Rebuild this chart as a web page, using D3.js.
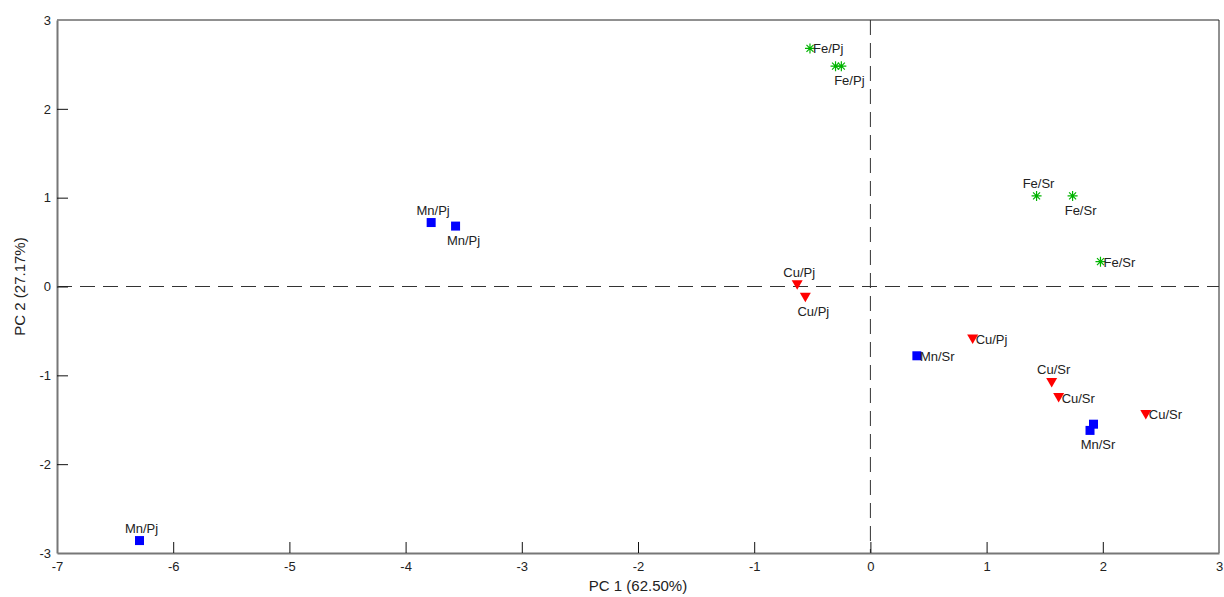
<!DOCTYPE html>
<html>
<head>
<meta charset="utf-8">
<script src="https://cdn.jsdelivr.net/npm/d3@7"></script>
<style>
  body { margin: 0; background: #fff; }
  text { font-family: "Liberation Sans", Arial, sans-serif; }
</style>
</head>
<body>
<script>
// scores, one small list per group
var feX = [-0.52, -0.30, -0.25, 1.43, 1.74, 1.98];
var feY = [2.68, 2.48, 2.48, 1.02, 1.02, 0.28];
var feLbl = ["Fe/Pj", "", "Fe/Pj", "Fe/Sr", "Fe/Sr", "Fe/Sr"];
var fePos = ["right", "below", "below", "above", "below", "right"];

var mnX = [-3.78, -3.57, -6.29, 0.40, 1.92, 1.89];
var mnY = [0.72, 0.68, -2.86, -0.78, -1.55, -1.62];
var mnLbl = ["Mn/Pj", "Mn/Pj", "Mn/Pj", "Mn/Sr", "", "Mn/Sr"];
var mnPos = ["above", "below", "above", "right", "below", "below"];

var cuX = [-0.63, -0.56, 0.88, 1.56, 1.62, 2.37];
var cuY = [0.02, -0.12, -0.59, -1.08, -1.25, -1.44];
var cuLbl = ["Cu/Pj", "Cu/Pj", "Cu/Pj", "Cu/Sr", "Cu/Sr", "Cu/Sr"];
var cuPos = ["above", "below", "right", "above", "right", "right"];

var xTicks = [-7, -6, -5, -4, -3, -2, -1, 0, 1, 2, 3];
var yTicks = [-3, -2, -1, 0, 1, 2, 3];

var margin = {top: 20, right: 5, bottom: 44, left: 57}
  , width = 1224 - margin.left - margin.right
  , height = 597 - margin.top - margin.bottom;

var x = d3.scaleLinear().domain([-7, 3]).range([0, width]);
var y = d3.scaleLinear().domain([-3, 3]).range([height, 0]);

var svg = d3.select('body').append('svg')
  .attr('width', 1224)
  .attr('height', 597);

var main = svg.append('g')
  .attr('transform', 'translate(' + margin.left + ',' + margin.top + ')');

// box top / right
main.append('line').attr('x1', 0).attr('x2', width).attr('y1', 0).attr('y2', 0)
  .attr('stroke', '#222').attr('stroke-width', 1);
main.append('line').attr('x1', width).attr('x2', width).attr('y1', 0).attr('y2', height)
  .attr('stroke', '#222').attr('stroke-width', 1);

// dashed zero lines
main.append('line').attr('x1', x(0)).attr('x2', x(0)).attr('y1', 0).attr('y2', height)
  .attr('stroke', '#333').attr('stroke-dasharray', '15,8');
main.append('line').attr('x1', 0).attr('x2', width).attr('y1', y(0)).attr('y2', y(0))
  .attr('stroke', '#333').attr('stroke-dasharray', '15,8');

var fmt = function(d) { return String(d); };  // plain hyphen minus, as in the original

var xAxis = d3.axisBottom(x).tickValues(xTicks).tickFormat(fmt)
  .tickSizeInner(-11).tickSizeOuter(0).tickPadding(9);
var yAxis = d3.axisLeft(y).tickValues(yTicks).tickFormat(fmt)
  .tickSizeInner(-11).tickSizeOuter(0).tickPadding(6);

var gx = main.append('g').attr('transform', 'translate(0,' + height + ')').call(xAxis);
var gy = main.append('g').call(yAxis);

[gx, gy].forEach(function(g) {
  g.select('.domain').attr('stroke', '#777').attr('stroke-width', 2);
  g.selectAll('.tick line').attr('stroke', '#111');
  g.selectAll('.tick text').attr('fill', '#222').style('font-size', '13px');
});
// no ticks drawn at the corners
gx.selectAll('.tick').filter(function(d) { return d === -7 || d === 3; }).select('line').remove();
gy.selectAll('.tick').filter(function(d) { return d === -3 || d === 3; }).select('line').remove();

main.append('text').text('PC 1 (62.50%)')
  .attr('x', x(-2)).attr('y', height + 38)
  .attr('text-anchor', 'middle').style('font-size', '15px').attr('fill', '#222');
main.append('text').text('PC 2 (27.17%)')
  .attr('transform', 'translate(-32,' + y(0) + ') rotate(-90)')
  .attr('text-anchor', 'middle').style('font-size', '15px').attr('fill', '#222');

function rows(xs, ys, lbls, pos) {
  return xs.map(function(v, i) { return {x: v, y: ys[i], label: lbls[i], pos: pos[i]}; });
}

var fe = rows(feX, feY, feLbl, fePos);
var mn = rows(mnX, mnY, mnLbl, mnPos);
var cu = rows(cuX, cuY, cuLbl, cuPos);

var pts = main.append('g');

// Mn: blue squares
pts.selectAll('.mn').data(mn).enter().append('rect')
  .attr('x', function(d) { return x(d.x) - 4.5; })
  .attr('y', function(d) { return y(d.y) - 4.5; })
  .attr('width', 9).attr('height', 9)
  .attr('fill', '#0000ff');

// Cu: red down triangles
pts.selectAll('.cu').data(cu).enter().append('path')
  .attr('d', function(d) {
    var cx = x(d.x), cy = y(d.y);
    return 'M' + (cx - 5.5) + ',' + (cy - 4.5) + 'L' + (cx + 5.5) + ',' + (cy - 4.5) + 'L' + cx + ',' + (cy + 5) + 'Z';
  })
  .attr('fill', '#ff0000');

// Fe: green stars
pts.selectAll('.fe').data(fe).enter().append('path')
  .attr('d', function(d) {
    var cx = x(d.x), cy = y(d.y), r = 5, q = 3.5;
    return 'M' + (cx - r) + ',' + cy + 'H' + (cx + r) +
      'M' + cx + ',' + (cy - r) + 'V' + (cy + r) +
      'M' + (cx - q) + ',' + (cy - q) + 'L' + (cx + q) + ',' + (cy + q) +
      'M' + (cx - q) + ',' + (cy + q) + 'L' + (cx + q) + ',' + (cy - q);
  })
  .attr('stroke', '#00b400').attr('stroke-width', 1.2).attr('fill', 'none');

var all = fe.concat(mn).concat(cu).filter(function(d) { return d.label !== ""; });

main.append('g').selectAll('text').data(all).enter().append('text')
  .text(function(d) { return d.label; })
  .attr('x', function(d) {
    if (d.pos === 'right') return x(d.x) + 3;
    if (d.pos === 'below') return x(d.x) + 8;
    return x(d.x) + 2;
  })
  .attr('y', function(d) {
    if (d.pos === 'right') return y(d.y) + 5;
    if (d.pos === 'below') return y(d.y) + 19;
    return y(d.y) - 8;
  })
  .attr('text-anchor', function(d) { return d.pos === 'right' ? 'start' : 'middle'; })
  .attr('fill', '#222')
  .style('font-size', '13px');
</script>
</body>
</html>
